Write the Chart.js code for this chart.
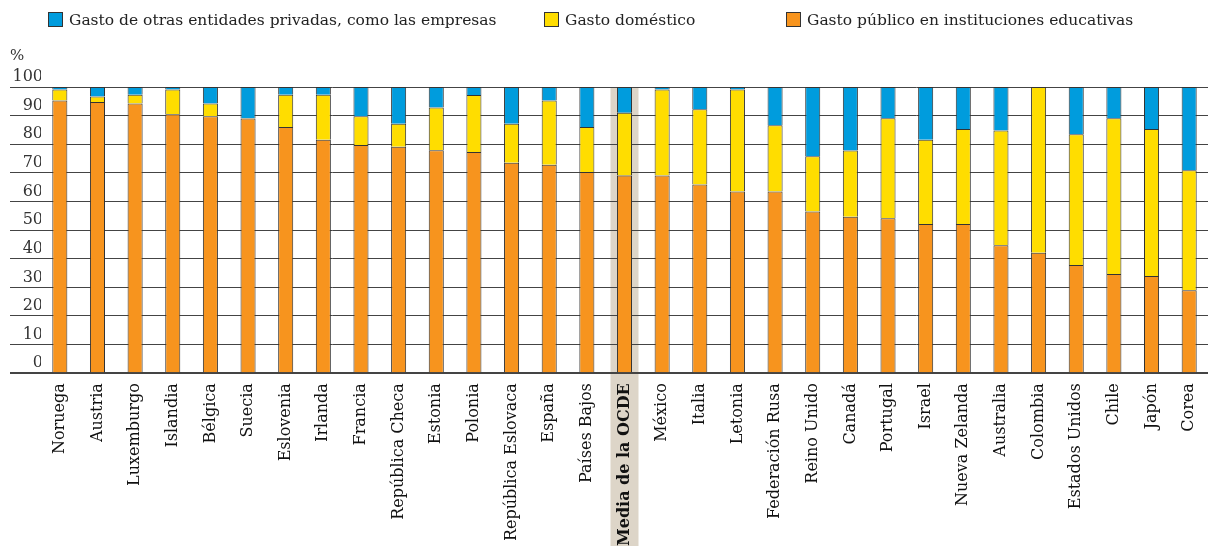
<!DOCTYPE html>
<html>
<head>
<meta charset="utf-8">
<script src="https://cdn.jsdelivr.net/npm/chart.js@4.4.1/dist/chart.umd.min.js"></script>
<style>
  body { margin: 0; background: #fff; }
  #wrap { position: relative; width: 1208px; height: 546px; }
  #legend { position: absolute; top: 0; left: 0; width: 1208px; height: 40px;
            font-family: 'DejaVu Serif', serif; font-size: 15.5px; color: #222; }
  .item { position: absolute; top: 10px; line-height: 20px; white-space: nowrap; }
  .box { display: inline-block; width: 13px; height: 13px; border: 1px solid #333;
         vertical-align: -2px; margin-right: 6px; }
</style>
</head>
<body>
<div id="wrap">
  <canvas id="chart" width="1208" height="546"></canvas>
  <div id="legend">
    <div class="item" style="left:48px"><span class="box" style="background:#009CDD"></span>Gasto de otras entidades privadas, como las empresas</div>
    <div class="item" style="left:544px"><span class="box" style="background:#FFDD00"></span>Gasto doméstico</div>
    <div class="item" style="left:786px"><span class="box" style="background:#F7941E"></span>Gasto público en instituciones educativas</div>
  </div>
</div>
<script>
var paises = ['Noruega', 'Austria', 'Luxemburgo', 'Islandia', 'Bélgica', 'Suecia', 'Eslovenia', 'Irlanda',
  'Francia', 'República Checa', 'Estonia', 'Polonia', 'República Eslovaca', 'España', 'Países Bajos',
  'Media de la OCDE', 'México', 'Italia', 'Letonia', 'Federación Rusa', 'Reino Unido', 'Canadá',
  'Portugal', 'Israel', 'Nueva Zelanda', 'Australia', 'Colombia', 'Estados Unidos', 'Chile', 'Japón', 'Corea'];

// % del gasto total en instituciones educativas
var gastoPublico = [95.3, 94.8, 94.2, 90.5, 89.8, 89.0, 86.0, 81.6, 79.7, 79.1, 77.9, 77.3, 73.5, 72.8, 70.3,
  69.1, 69.1, 65.9, 63.5, 63.5, 56.5, 54.7, 54.1, 52.1, 52.1, 44.7, 42.1, 37.8, 34.7, 34.0, 29.0];
var gastoDomestico = [3.8, 1.9, 3.1, 8.6, 4.4, 0.2, 11.3, 15.7, 10.1, 8.1, 14.9, 19.9, 13.7, 22.5, 15.7,
  21.9, 30.0, 26.3, 35.6, 23.1, 19.3, 23.1, 35.0, 29.5, 33.2, 40.1, 57.9, 45.7, 54.4, 51.3, 41.9];
var gastoOtras = [0.9, 3.3, 2.7, 0.9, 5.8, 10.8, 2.7, 2.7, 10.2, 12.8, 7.2, 2.8, 12.8, 4.7, 14.0,
  9.0, 0.9, 7.8, 0.9, 13.4, 24.2, 22.2, 10.9, 18.4, 14.7, 15.2, 0, 16.5, 10.9, 14.7, 29.1];

var yTicks = [0, 10, 20, 30, 40, 50, 60, 70, 80, 90, 100];
var destacado = 'Media de la OCDE';

// banda beige detras de la media OCDE
var bandaOCDE = {
  id: 'bandaOCDE',
  beforeDraw: function(chart) {
    var x = chart.scales.x;
    var i = paises.indexOf(destacado);
    var cx = x.getPixelForValue(i);
    var ctx = chart.ctx;
    ctx.save();
    ctx.fillStyle = '#DDD5C8';
    ctx.fillRect(cx - 14, chart.chartArea.top, 28, chart.height - chart.chartArea.top);
    ctx.restore();
  }
};

var bordeBarra = '#333';

new Chart(document.getElementById('chart'), {
  type: 'bar',
  data: {
    labels: paises,
    datasets: [
      { label: 'Gasto público en instituciones educativas', data: gastoPublico,
        backgroundColor: '#F7941E', borderColor: bordeBarra, borderWidth: 1 },
      { label: 'Gasto doméstico', data: gastoDomestico,
        backgroundColor: '#FFDD00', borderColor: bordeBarra, borderWidth: 1 },
      { label: 'Gasto de otras entidades privadas, como las empresas', data: gastoOtras,
        backgroundColor: '#009CDD', borderColor: bordeBarra, borderWidth: 1 }
    ]
  },
  plugins: [bandaOCDE],
  options: {
    responsive: false,
    animation: false,
    layout: { padding: { top: 47, left: 10, right: 0, bottom: -10 } },
    datasets: { bar: { categoryPercentage: 1, barPercentage: 0.4 } },
    plugins: {
      legend: { display: false },
      tooltip: { enabled: false },
      title: {
        display: true, text: '%', align: 'start', color: '#333',
        font: { family: 'DejaVu Serif', size: 15, weight: 'normal' },
        padding: { top: 0, bottom: 22 }
      }
    },
    scales: {
      x: {
        stacked: true,
        grid: { display: false, drawTicks: false },
        border: { display: false },
        ticks: {
          autoSkip: false, maxRotation: 90, minRotation: 90, padding: 10, color: '#111',
          font: function(c) {
            return { family: 'DejaVu Serif', size: 16,
                     weight: paises[c.index] === destacado ? 'bold' : 'normal' };
          }
        },
        afterFit: function(s) { s.paddingLeft = 0; s.paddingRight = 0; }
      },
      y: {
        stacked: true, min: 0, max: 100,
        afterBuildTicks: function(s) { s.ticks = yTicks.map(function(v) { return { value: v }; }); },
        grid: {
          color: '#444', tickLength: 31,
          lineWidth: function(c) { return c.tick && c.tick.value === 0 ? 2 : 1; }
        },
        border: { display: false },
        ticks: {
          padding: -33, labelOffset: -10, color: '#333',
          font: { family: 'DejaVu Serif', size: 16 }
        },
        afterFit: function(s) { s.width = 31; }
      }
    }
  }
});
</script>
</body>
</html>
